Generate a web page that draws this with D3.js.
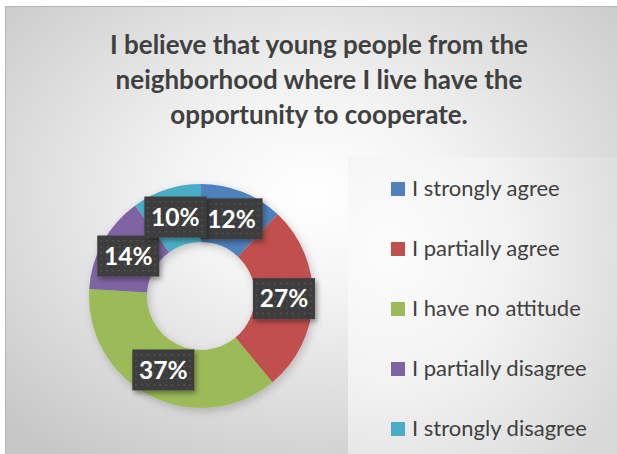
<!DOCTYPE html>
<html><head><meta charset="utf-8">
<script src="https://cdn.jsdelivr.net/npm/d3@7"></script>
<style>body{margin:0;background:#fff;} svg{display:block;}</style>
</head><body>
<svg id="chart" width="617" height="454"></svg>
<script>
const titleLines = ["I believe that young people from the", "neighborhood where I live have the", "opportunity to cooperate."];
const categories = ["I strongly agree", "I partially agree", "I have no attitude", "I partially disagree", "I strongly disagree"];
const values = [12, 27, 37, 14, 10];
const colors = ["#4F81BD", "#C0504D", "#9BBB59", "#8064A2", "#4BACC6"];

const svg = d3.select("#chart");
const defs = svg.append("defs");

const bg = defs.append("radialGradient").attr("id", "bgGrad")
  .attr("cx", "0.5").attr("cy", "0.42").attr("r", "0.72");
bg.append("stop").attr("offset", "0").attr("stop-color", "#ffffff");
bg.append("stop").attr("offset", "0.3").attr("stop-color", "#f4f4f4");
bg.append("stop").attr("offset", "1").attr("stop-color", "#c6c6c6");

const lg = defs.append("radialGradient").attr("id", "legGrad")
  .attr("cx", "0.15").attr("cy", "0.3").attr("r", "1.0");
lg.append("stop").attr("offset", "0").attr("stop-color", "#fcfcfc");
lg.append("stop").attr("offset", "0.45").attr("stop-color", "#f3f3f3");
lg.append("stop").attr("offset", "1").attr("stop-color", "#d9d9d9");

const pat = defs.append("pattern").attr("id", "dots").attr("patternUnits", "userSpaceOnUse")
  .attr("width", 6).attr("height", 6);
pat.append("rect").attr("width", 6).attr("height", 6).attr("fill", "#3d3d3d");
pat.append("rect").attr("x", 2).attr("y", 2).attr("width", 1.5).attr("height", 1.5).attr("fill", "#585858");

const sh = defs.append("filter").attr("id", "shadow").attr("x", "-20%").attr("y", "-20%").attr("width", "150%").attr("height", "150%");
sh.append("feDropShadow").attr("dx", 2).attr("dy", 3).attr("stdDeviation", 2.5).attr("flood-color", "#000").attr("flood-opacity", 0.35);
const sh2 = defs.append("filter").attr("id", "shadow2").attr("x", "-20%").attr("y", "-20%").attr("width", "150%").attr("height", "150%");
sh2.append("feDropShadow").attr("dx", 2).attr("dy", 3).attr("stdDeviation", 4).attr("flood-color", "#000").attr("flood-opacity", 0.2);

// frame
svg.append("rect").attr("x", 5.5).attr("y", 6.5).attr("width", 612).attr("height", 448)
  .attr("fill", "url(#bgGrad)").attr("stroke", "#b4b4b4").attr("stroke-width", 1);

// title
svg.append("g").selectAll("text").data(titleLines).join("text")
  .attr("x", 319).attr("y", (d, i) => 54 + i * 35)
  .attr("text-anchor", "middle")
  .attr("font-family", "Lato, 'Open Sans', sans-serif").attr("font-weight", "bold")
  .attr("font-size", 26).attr("fill", "#404040")
  .text(d => d);

// legend box
svg.append("rect").attr("x", 348).attr("y", 157).attr("width", 269).attr("height", 297)
  .attr("fill", "url(#legGrad)");

// donut
const cx = 201, cy = 296, rOuter = 112, rInner = 54;
const pie = d3.pie().sort(null).value(d => d);
const arcs = pie(values);
const arc = d3.arc().innerRadius(rInner).outerRadius(rOuter);
const color = d3.scaleOrdinal().domain(categories).range(colors);

const g = svg.append("g").attr("transform", `translate(${cx},${cy})`);
g.append("g").attr("filter", "url(#shadow2)")
  .selectAll("path").data(arcs).join("path")
  .attr("d", arc).attr("fill", (d, i) => color(categories[i]));

// labels
const fmt = d3.format(".0%");
const total = d3.sum(values);
const lab = g.selectAll("g.lab").data(arcs).join("g").attr("class", "lab")
  .attr("transform", d => `translate(${arc.centroid(d)})`);
lab.append("rect").attr("x", -31).attr("y", -20.5).attr("width", 62).attr("height", 41)
  .attr("fill", "url(#dots)").attr("filter", "url(#shadow)");
lab.append("text").attr("text-anchor", "middle").attr("dy", "0.36em")
  .attr("font-family", "Lato, 'Open Sans', sans-serif").attr("font-weight", "bold")
  .attr("font-size", 24.5).attr("fill", "#ffffff")
  .text(d => fmt(d.data / total));

// legend
const leg = svg.append("g").selectAll("g").data(categories).join("g")
  .attr("transform", (d, i) => `translate(391, ${182 + i * 60})`);
leg.append("rect").attr("width", 14).attr("height", 14).attr("fill", d => color(d));
leg.append("text").attr("x", 21).attr("y", 13.5)
  .attr("font-family", "Lato, 'Open Sans', sans-serif").attr("font-size", 22)
  .attr("fill", "#404040").text(d => d);
</script>
</body></html>
